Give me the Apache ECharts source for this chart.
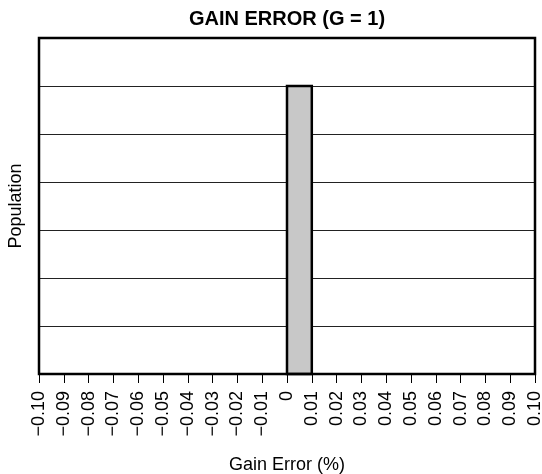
<!DOCTYPE html>
<html>
<head>
<meta charset="utf-8">
<style>
    html,body{margin:0;padding:0;background:#fff;}
    #main{width:542px;height:474px;}
</style>
</head>
<body>
<div id="main"></div>
<script src="https://cdn.jsdelivr.net/npm/echarts@6/dist/echarts.min.js"></script>
<script>
    // histogram bins (gain error, %) and counts
    var binStart = [0];
    var binEnd = [0.01];
    var counts = [6];
    var xMin = -0.10, xMax = 0.10, xStep = 0.01;
    var yMax = 7;

    var barData = [];
    for (var i = 0; i < counts.length; i++) {
        barData.push([binStart[i], binEnd[i], counts[i]]);
    }

    var myChart = echarts.init(document.getElementById('main'));
    var font = 'Liberation Sans, Arial, sans-serif';
    var option = {
        backgroundColor: '#fff',
        animation: false,
        title: {
            text: 'GAIN ERROR (G = 1)',
            left: 282,
            textAlign: 'center',
            top: 4,
            textStyle: { fontFamily: font, fontSize: 20, fontWeight: 'bold', color: '#000' }
        },
        grid: { left: 39, right: 7, top: 38, bottom: 100, containLabel: false, outerBoundsMode: 'none' },
        xAxis: {
            type: 'value',
            min: xMin,
            max: xMax,
            interval: xStep,
            name: 'Gain Error (%)',
            nameLocation: 'middle',
            nameGap: 82,
            nameTextStyle: { fontFamily: font, fontSize: 18, color: '#000' },
            axisLine: { show: false },
            axisTick: { show: true, length: 9, lineStyle: { color: '#000', width: 1 } },
            splitLine: { show: false },
            axisLabel: {
                rotate: 90,
                margin: 17,
                fontFamily: font,
                fontSize: 18,
                color: '#000',
                showMinLabel: true,
                showMaxLabel: true,
                hideOverlap: false,
                formatter: function (v) {
                    var r = Math.round(v * 100);
                    if (r === 0) return '0';
                    var s = (Math.abs(r) / 100).toFixed(2);
                    return r < 0 ? '\u2212' + s : s;
                }
            }
        },
        yAxis: {
            type: 'value',
            min: 0,
            max: yMax,
            interval: 1,
            name: 'Population',
            nameLocation: 'middle',
            nameGap: 14,
            nameTextStyle: { fontFamily: font, fontSize: 18, color: '#000' },
            axisLine: { show: false },
            axisTick: { show: false },
            axisLabel: { show: false },
            splitLine: { show: true, lineStyle: { color: '#222', width: 1 } }
        },
        series: [
            {
                type: 'custom',
                data: barData,
                z: 5,
                renderItem: function (params, api) {
                    var p0 = api.coord([api.value(0), 0]);
                    var p1 = api.coord([api.value(1), api.value(2)]);
                    return {
                        type: 'rect',
                        shape: { x: p0[0], y: p1[1], width: p1[0] - p0[0], height: p0[1] - p1[1] },
                        style: { fill: '#c8c8c8', stroke: '#000', lineWidth: 2.5 }
                    };
                }
            },
            {
                // plot frame
                type: 'custom',
                data: [[xMin, xMax, yMax]],
                z: 6,
                renderItem: function (params, api) {
                    var p0 = api.coord([api.value(0), 0]);
                    var p1 = api.coord([api.value(1), api.value(2)]);
                    return {
                        type: 'rect',
                        shape: { x: p0[0], y: p1[1], width: p1[0] - p0[0], height: p0[1] - p1[1] },
                        style: { fill: null, stroke: '#000', lineWidth: 2.5 }
                    };
                }
            }
        ]
    };
    myChart.setOption(option);
</script>
</body>
</html>
